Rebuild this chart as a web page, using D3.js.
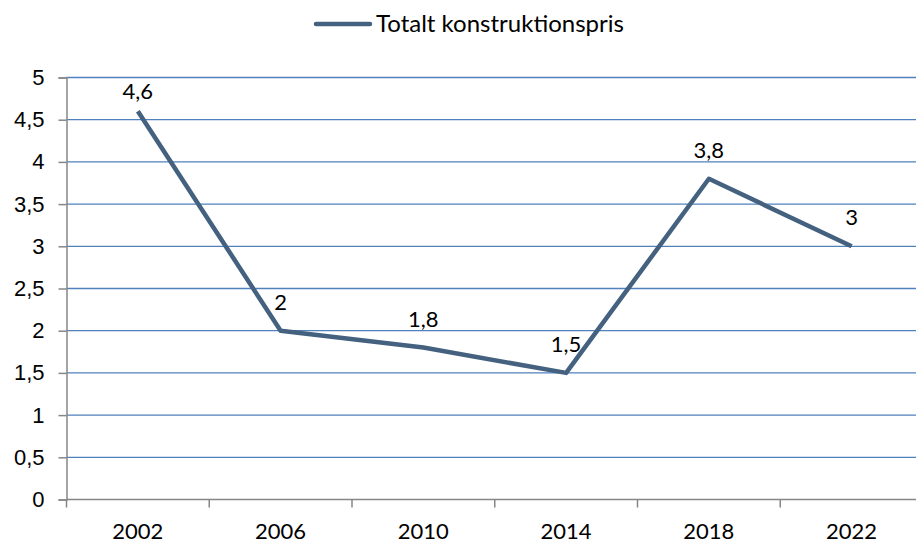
<!DOCTYPE html>
<html>
<head>
<meta charset="utf-8">
<script src="https://cdn.jsdelivr.net/npm/d3@7"></script>
<style>
  body { margin: 0; background: #fff; }
  svg { font-family: Lato, "Open Sans", sans-serif; }
</style>
</head>
<body>
<svg id="chart"></svg>
<script>
// data
var years = ["2002", "2006", "2010", "2014", "2018", "2022"];
var values = [4.6, 2, 1.8, 1.5, 3.8, 3];
var yTicks = [0, 0.5, 1, 1.5, 2, 2.5, 3, 3.5, 4, 4.5, 5];
var seriesName = "Totalt konstruktionspris";

var screen = {width: 916, height: 542};
var margins = {top: 77.5, bottom: 42.5, left: 66.5, right: -7};

var graph = {
    width: screen.width - margins.left - margins.right,
    height: screen.height - margins.top - margins.bottom
};

var svg = d3.select("#chart")
    .attr("width", screen.width)
    .attr("height", screen.height);

var xScale = d3.scaleBand()
    .domain(years)
    .range([0, graph.width]);

var yScale = d3.scaleLinear()
    .domain([0, 5])
    .range([graph.height, 0]);

var fmt = function(v) { return String(v).replace(".", ","); };

var g = svg.append("g")
    .attr("transform", "translate(" + margins.left + "," + margins.top + ")");

// horizontal gridlines
g.append("g")
    .selectAll("line")
    .data(yTicks.filter(function(t) { return t > 0; }))
    .enter()
    .append("line")
    .attr("x1", 0)
    .attr("x2", graph.width)
    .attr("y1", function(t) { return yScale(t); })
    .attr("y2", function(t) { return yScale(t); })
    .attr("stroke", "#4f81bd")
    .attr("stroke-width", 1.3);

// y axis
var yAxis = d3.axisLeft(yScale)
    .tickValues(yTicks)
    .tickSize(8)
    .tickPadding(14)
    .tickFormat(fmt);

var ya = g.append("g").call(yAxis);
ya.select(".domain").attr("stroke", "#868686").attr("stroke-width", 1.5);
ya.selectAll(".tick line").attr("stroke", "#868686").attr("stroke-width", 1.5);
ya.selectAll(".tick text")
    .attr("font-size", 22)
    .attr("fill", "#000");

// x axis: ticks at category boundaries
var xa = g.append("g")
    .attr("transform", "translate(0," + graph.height + ")");

xa.append("line")
    .attr("x1", 0)
    .attr("x2", graph.width)
    .attr("stroke", "#868686")
    .attr("stroke-width", 1.5);

var bounds = years.map(function(y) { return xScale(y); });
bounds.push(graph.width);

xa.selectAll(".xtick")
    .data(bounds)
    .enter()
    .append("line")
    .attr("x1", function(d) { return d; })
    .attr("x2", function(d) { return d; })
    .attr("y1", 0)
    .attr("y2", 8)
    .attr("stroke", "#868686")
    .attr("stroke-width", 1.5);

xa.selectAll(".xlabel")
    .data(years)
    .enter()
    .append("text")
    .attr("x", function(y) { return xScale(y) + xScale.bandwidth() / 2; })
    .attr("y", 39)
    .attr("text-anchor", "middle")
    .attr("font-size", 22)
    .attr("fill", "#000")
    .text(function(y) { return y; });

// the line
var points = years.map(function(y, i) { return {year: y, value: values[i]}; });

var line = d3.line()
    .x(function(d) { return xScale(d.year) + xScale.bandwidth() / 2; })
    .y(function(d) { return yScale(d.value); });

g.append("path")
    .datum(points)
    .attr("d", line)
    .attr("fill", "none")
    .attr("stroke", "#44617f")
    .attr("stroke-width", 4.5)
    .attr("stroke-linejoin", "round");

// value labels above points, kept inside the plot
g.selectAll(".vlabel")
    .data(points)
    .enter()
    .append("text")
    .attr("x", function(d) { return xScale(d.year) + xScale.bandwidth() / 2; })
    .attr("y", function(d) { return Math.max(yScale(d.value) - 21, 21); })
    .attr("text-anchor", "middle")
    .attr("font-size", 22)
    .attr("fill", "#000")
    .text(function(d) { return fmt(d.value); });

// legend
var legend = svg.append("g")
    .attr("transform", "translate(316,24)");

legend.append("line")
    .attr("x1", 0)
    .attr("x2", 54)
    .attr("stroke", "#44617f")
    .attr("stroke-width", 4.5)
    .attr("stroke-linecap", "round");

legend.append("text")
    .attr("x", 60)
    .attr("y", 8)
    .attr("font-size", 24)
    .attr("fill", "#000")
    .text(seriesName);
</script>
</body>
</html>
